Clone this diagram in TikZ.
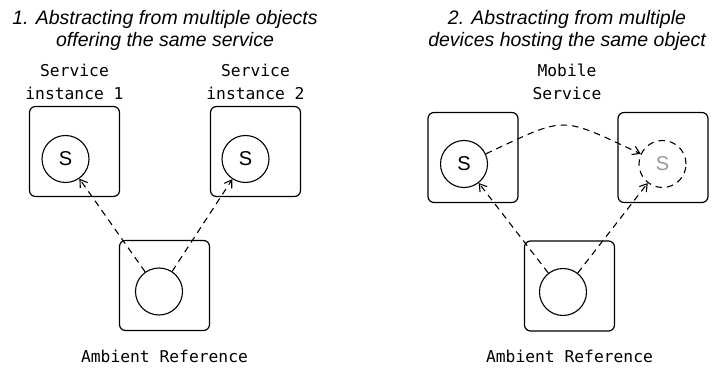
\documentclass[tikz,border=0pt]{standalone}
\usepackage{fontspec}
\setmainfont{Liberation Sans}
\setmonofont{DejaVu Sans Mono}
\usepackage{xcolor}
\definecolor{ghost}{HTML}{999999}
\usetikzlibrary{arrows.meta, positioning}

\tikzset{
  hostbox/.style={draw, line width=1.2pt, rounded corners=6pt, minimum size=90pt, inner sep=0pt},
  objcircle/.style={draw, circle, line width=1.1pt, minimum size=47pt, inner sep=0pt, font=\fontsize{20}{20}\selectfont},
  refarrow/.style={line width=1.1pt, dash pattern=on 6.5pt off 5pt, -{Straight Barb[length=7pt,width=9pt,line width=1.1pt]}},
  heading/.style={align=center, font=\fontsize{19.5}{22}\selectfont\itshape},
  monolabel/.style={align=center, font=\fontsize{16.3}{23}\selectfont\ttfamily}
}

\begin{document}
\begin{tikzpicture}[x=1pt, y=1pt]
  \useasboundingbox (0,0) rectangle (714,367);

  % Headings
  \node[heading, anchor=base] (head1) at (165,320) {1. Abstracting from multiple objects\\offering the same service};
  \node[heading, anchor=base] (head2) at (567,320) {2. Abstracting from multiple\\devices hosting the same object};

  % Left: service instances
  \node[hostbox] (host1) at (74.5,215.5) {};
  \node[objcircle] (svc1) at (65.5,208) {S};
  \node[monolabel, anchor=base] (lab1) at (74.5,267) {Service\\instance 1};

  \node[hostbox] (host2) at (255.5,215.5) {};
  \node[objcircle] (svc2) at (245.5,208) {S};
  \node[monolabel, anchor=base] (lab2) at (255.5,267) {Service\\instance 2};

  % Left: ambient reference
  \node[hostbox] (amb1) at (164.5,81.5) {};
  \node[objcircle] (ref1) at (159,75.5) {};
  \node[monolabel, anchor=base] (amblab1) at (164.5,5) {Ambient Reference};

  \draw[refarrow] (ref1) -- (svc1);
  \draw[refarrow] (ref1) -- (svc2);

  % Right: mobile service
  \node[hostbox] (host3) at (473,209.5) {};
  \node[objcircle] (svc3) at (464,203) {S};

  \node[hostbox] (host4) at (663,209.5) {};
  \node[objcircle, dash pattern=on 6.5pt off 5pt, text=ghost] (svc4) at (662.5,203) {S};

  \node[monolabel, anchor=base] (lab3) at (567,267) {Mobile\\Service};

  % Right: ambient reference
  \node[hostbox] (amb2) at (569.5,81) {};
  \node[objcircle] (ref2) at (563,75) {};
  \node[monolabel, anchor=base] (amblab2) at (569.5,5) {Ambient Reference};

  \draw[refarrow] (ref2) -- (svc3);
  \draw[refarrow] (ref2) -- (svc4);
  \draw[refarrow] (svc3) to[out=25, in=155, looseness=1.5] (svc4);
\end{tikzpicture}
\end{document}
